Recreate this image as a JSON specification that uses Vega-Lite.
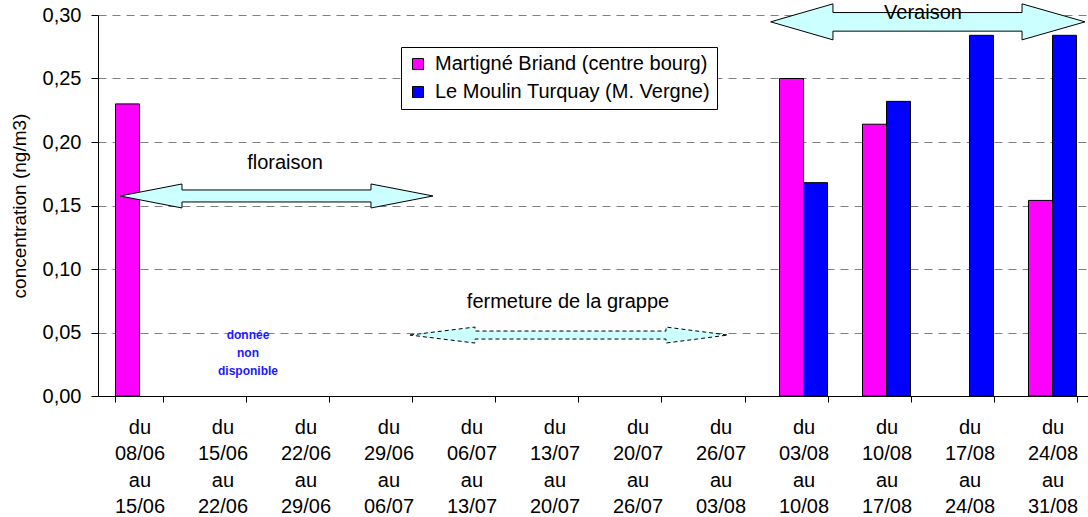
{
  "$schema": "https://vega.github.io/schema/vega-lite/v6.json",
  "width": 996,
  "height": 381,
  "autosize": "none",
  "padding": {"left": 98, "top": 15, "right": 0, "bottom": 121},
  "background": "white",
  "config": {"font": "Liberation Sans", "view": {"stroke": null}},
  "datasets": {
    "bars": [
      {"period": "du|08/06|au|15/06", "station": "Martigné Briand (centre bourg)", "value": 0.23},
      {"period": "du|03/08|au|10/08", "station": "Martigné Briand (centre bourg)", "value": 0.25},
      {"period": "du|03/08|au|10/08", "station": "Le Moulin Turquay (M. Vergne)", "value": 0.168},
      {"period": "du|10/08|au|17/08", "station": "Martigné Briand (centre bourg)", "value": 0.214},
      {"period": "du|10/08|au|17/08", "station": "Le Moulin Turquay (M. Vergne)", "value": 0.232},
      {"period": "du|17/08|au|24/08", "station": "Le Moulin Turquay (M. Vergne)", "value": 0.284},
      {"period": "du|24/08|au|31/08", "station": "Martigné Briand (centre bourg)", "value": 0.154},
      {"period": "du|24/08|au|31/08", "station": "Le Moulin Turquay (M. Vergne)", "value": 0.284}
    ],
    "arrows": [
      {"arrow": "floraison", "ax": 0.265, "top": 0.1575, "bottom": 0.1575},
      {"arrow": "floraison", "ax": 1.012, "top": 0.16695, "bottom": 0.14805},
      {"arrow": "floraison", "ax": 1.012, "top": 0.16222, "bottom": 0.15278},
      {"arrow": "floraison", "ax": 3.289, "top": 0.16222, "bottom": 0.15278},
      {"arrow": "floraison", "ax": 3.289, "top": 0.16695, "bottom": 0.14805},
      {"arrow": "floraison", "ax": 4.036, "top": 0.1575, "bottom": 0.1575},
      {"arrow": "veraison", "ax": 8.105, "top": 0.2946, "bottom": 0.2946},
      {"arrow": "veraison", "ax": 8.855, "top": 0.30877, "bottom": 0.28043},
      {"arrow": "veraison", "ax": 8.855, "top": 0.30192, "bottom": 0.28728},
      {"arrow": "veraison", "ax": 11.133, "top": 0.30192, "bottom": 0.28728},
      {"arrow": "veraison", "ax": 11.133, "top": 0.30877, "bottom": 0.28043},
      {"arrow": "veraison", "ax": 11.892, "top": 0.2946, "bottom": 0.2946}
    ],
    "dashedArrow": [
      {"arrow": "fermeture", "ax": 3.759, "top": 0.048, "bottom": 0.048},
      {"arrow": "fermeture", "ax": 4.542, "top": 0.0543, "bottom": 0.0417},
      {"arrow": "fermeture", "ax": 4.542, "top": 0.05115, "bottom": 0.04485},
      {"arrow": "fermeture", "ax": 6.843, "top": 0.05115, "bottom": 0.04485},
      {"arrow": "fermeture", "ax": 6.843, "top": 0.0543, "bottom": 0.0417},
      {"arrow": "fermeture", "ax": 7.59, "top": 0.048, "bottom": 0.048}
    ],
    "labels": [
      {"tx": 2.253, "ty": 0.1834, "text": "floraison"},
      {"tx": 5.663, "ty": 0.0742, "text": "fermeture de la grappe"},
      {"tx": 9.94, "ty": 0.3014, "text": "Veraison"}
    ],
    "note": [
      {"tx": 1.807, "ty": 0.048, "text": "donnée|non|disponible"}
    ]
  },
  "layer": [
    {
      "data": {"name": "bars"},
      "mark": {"type": "bar", "stroke": "black", "strokeWidth": 1},
      "encoding": {
        "x": {
          "field": "period", "type": "nominal",
          "scale": {
            "domain": ["du|08/06|au|15/06", "du|15/06|au|22/06", "du|22/06|au|29/06", "du|29/06|au|06/07", "du|06/07|au|13/07", "du|13/07|au|20/07", "du|20/07|au|26/07", "du|26/07|au|03/08", "du|03/08|au|10/08", "du|10/08|au|17/08", "du|17/08|au|24/08", "du|24/08|au|31/08"],
            "paddingInner": 0.4217, "paddingOuter": 0.2108
          },
          "axis": {
            "title": null, "labelExpr": "datum.value ? split(datum.value, '|') : ''", "labelAngle": 0,
            "labelFontSize": 20, "labelLineHeight": 26.5, "labelPadding": 15, "labelColor": "black",
            "tickSize": 6, "tickColor": "black", "tickBand": "extent", "domainColor": "black", "grid": false
          }
        },
        "xOffset": {"field": "station", "type": "nominal", "scale": {"domain": ["Martigné Briand (centre bourg)", "Le Moulin Turquay (M. Vergne)"], "paddingInner": 0, "paddingOuter": 0}},
        "y": {
          "field": "value", "type": "quantitative",
          "title": "concentration (ng/m3)",
          "scale": {"domain": [0, 0.3], "nice": false},
          "axis": {
            "title": "concentration (ng/m3)", "titleFontSize": 19, "titleFontWeight": "normal", "titleColor": "black", "titlePadding": 13,
            "values": [0, 0.05, 0.1, 0.15, 0.2, 0.25, 0.3],
            "labelExpr": "replace(format(datum.value, '.2f'), '.', ',')",
            "labelFontSize": 20, "labelColor": "black", "labelPadding": 10, "labelFlush": false,
            "tickSize": 7, "tickColor": "black", "domainColor": "black",
            "grid": true, "gridColor": "#808080", "gridDash": [8, 6], "gridWidth": 1
          }
        },
        "color": {
          "field": "station", "type": "nominal",
          "scale": {"domain": ["Martigné Briand (centre bourg)", "Le Moulin Turquay (M. Vergne)"], "range": ["#FF00FF", "#0000FF"]},
          "legend": {
            "orient": "none", "legendX": 303, "legendY": 32, "title": null,
            "labelFontSize": 20, "labelColor": "black", "labelLimit": 500, "labelOffset": 7,
            "symbolType": "square", "symbolSize": 121, "symbolStrokeColor": "black", "symbolStrokeWidth": 1, "symbolOpacity": 1,
            "fillColor": "white", "strokeColor": "black", "padding": 7, "rowPadding": 8
          }
        }
      }
    },
    {
      "data": {"name": "arrows"},
      "mark": {"type": "area", "fill": "#CCFFFF", "stroke": "black", "strokeWidth": 1, "opacity": 1},
      "encoding": {
        "x": {"field": "ax", "type": "quantitative", "scale": {"domain": [0, 12], "nice": false, "zero": false}, "axis": null},
        "y": {"field": "top", "type": "quantitative", "title": "concentration (ng/m3)", "scale": {"domain": [0, 0.3], "nice": false}},
        "y2": {"field": "bottom"},
        "detail": {"field": "arrow"}
      }
    },
    {
      "data": {"name": "dashedArrow"},
      "mark": {"type": "area", "fill": "#CCFFFF", "stroke": "black", "strokeWidth": 1, "strokeDash": [4, 3], "opacity": 1},
      "encoding": {
        "x": {"field": "ax", "type": "quantitative", "scale": {"domain": [0, 12], "nice": false, "zero": false}, "axis": null},
        "y": {"field": "top", "type": "quantitative", "title": "concentration (ng/m3)", "scale": {"domain": [0, 0.3], "nice": false}},
        "y2": {"field": "bottom"}
      }
    },
    {
      "data": {"name": "labels"},
      "mark": {"type": "text", "fontSize": 20, "color": "black", "align": "center", "baseline": "middle"},
      "encoding": {
        "x": {"field": "tx", "type": "quantitative", "scale": {"domain": [0, 12], "nice": false, "zero": false}, "axis": null},
        "y": {"field": "ty", "type": "quantitative", "title": "concentration (ng/m3)", "scale": {"domain": [0, 0.3], "nice": false}},
        "text": {"field": "text"}
      }
    },
    {
      "data": {"name": "note"},
      "mark": {"type": "text", "fontSize": 12, "fontWeight": "bold", "color": "#1a1aff", "align": "center", "baseline": "middle", "lineBreak": "|", "lineHeight": 18},
      "encoding": {
        "x": {"field": "tx", "type": "quantitative", "scale": {"domain": [0, 12], "nice": false, "zero": false}, "axis": null},
        "y": {"field": "ty", "type": "quantitative", "title": "concentration (ng/m3)", "scale": {"domain": [0, 0.3], "nice": false}},
        "text": {"field": "text"}
      }
    }
  ],
  "resolve": {"scale": {"x": "independent"}}
}
